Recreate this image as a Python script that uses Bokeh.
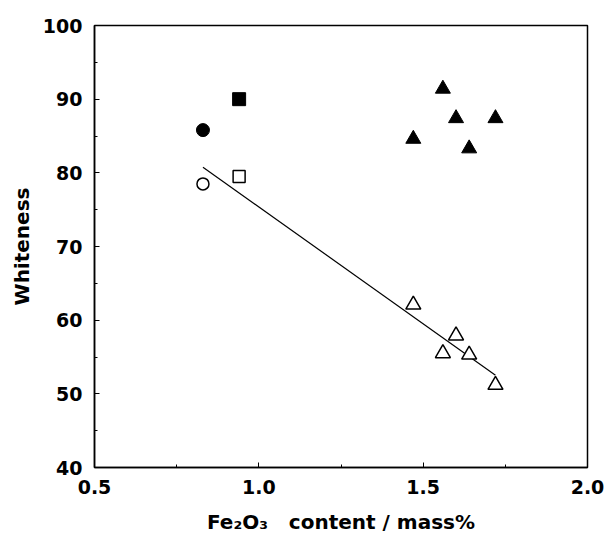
import numpy as np
from bokeh.plotting import figure
from bokeh.models import Range1d, SingleIntervalTicker, NumeralTickFormatter
from bokeh.embed import file_html
from bokeh.resources import INLINE

# ---- data ----
open_circle_x = [0.83]
open_circle_y = [78.5]
filled_circle_x = [0.83]
filled_circle_y = [85.8]
open_square_x = [0.94]
open_square_y = [79.5]
filled_square_x = [0.94]
filled_square_y = [90.0]
tri_x = [1.47, 1.56, 1.60, 1.64, 1.72]
filled_tri_y = [84.6, 91.4, 87.4, 83.3, 87.4]
open_tri_y = [62.1, 55.5, 57.9, 55.3, 51.2]

x_title = "Fe\u2082O\u2083\u00a0\u00a0\u00a0content / mass%"
y_title = "Whiteness"

FONT = "DejaVu Sans"

p = figure(width=606, height=537, output_backend="svg", toolbar_location=None,
           x_range=Range1d(0.5, 2.0), y_range=Range1d(40, 100),
           min_border_left=94, min_border_right=19, min_border_top=25,
           min_border_bottom=70)
p.background_fill_color = "white"
p.border_fill_color = "white"
p.grid.visible = False
p.outline_line_color = "black"
p.outline_line_width = 1.5

# axes
p.xaxis.ticker = SingleIntervalTicker(interval=0.5, num_minor_ticks=2)
p.yaxis.ticker = SingleIntervalTicker(interval=10, num_minor_ticks=2)
p.xaxis.formatter = NumeralTickFormatter(format="0.0")
for ax in (p.xaxis[0], p.yaxis[0]):
    ax.axis_line_color = "black"
    ax.axis_line_width = 1.5
    ax.major_tick_in = 5
    ax.major_tick_out = 0
    ax.minor_tick_in = 3
    ax.minor_tick_out = 0
    ax.major_tick_line_color = "black"
    ax.minor_tick_line_color = "black"
    ax.major_label_text_font = FONT
    ax.major_label_text_font_style = "bold"
    ax.major_label_text_font_size = "19px"
    ax.major_label_text_color = "black"
    ax.axis_label_text_font = FONT
    ax.axis_label_text_font_style = "bold"
    ax.axis_label_text_font_size = "20px"
    ax.axis_label_text_color = "black"
p.xaxis.major_label_standoff = 12
p.yaxis.major_label_standoff = 12

p.yaxis.axis_label = y_title
p.yaxis.axis_label_standoff = 6
p.xaxis.axis_label = x_title
p.xaxis.axis_label_standoff = 13

# fit line through open symbols
ox = np.array(open_circle_x + open_square_x + tri_x)
oy = np.array(open_circle_y + open_square_y + open_tri_y)
k, b = np.polyfit(ox, oy, 1)
fx = np.array([ox.min(), ox.max()])
p.line(fx, k * fx + b, line_color="black", line_width=1.2)

# markers
p.scatter(filled_circle_x, filled_circle_y, marker="circle", size=13,
          fill_color="black", line_color="black")
p.scatter(open_circle_x, open_circle_y, marker="circle", size=12,
          fill_color="white", line_color="black", line_width=1.5)
p.scatter(filled_square_x, filled_square_y, marker="square", size=13,
          fill_color="black", line_color="black")
p.scatter(open_square_x, open_square_y, marker="square", size=12,
          fill_color="white", line_color="black", line_width=1.5)
p.scatter(tri_x, filled_tri_y, marker="triangle", size=15,
          fill_color="black", line_color="black")
p.scatter(tri_x, open_tri_y, marker="triangle", size=15,
          fill_color="white", line_color="black", line_width=1.5)

open("out.html", "w").write(file_html(p, INLINE))
